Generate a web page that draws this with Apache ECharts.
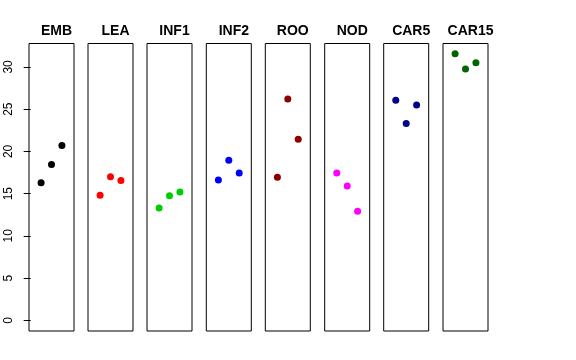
<!DOCTYPE html>
<html><head><meta charset="utf-8">
<script src="https://cdn.jsdelivr.net/npm/echarts@6/dist/echarts.min.js"></script>
<style>html,body{margin:0;padding:0;background:#fff}#c{width:576px;height:360px}</style>
</head><body><div id="c"></div>
<script>
var panels = ["EMB","LEA","INF1","INF2","ROO","NOD","CAR5","CAR15"];
var colors = ["#000000","#FF0000","#00CD00","#0000FF","#8B0000","#FF00FF","#00008B","#006400"];
var positions = [1,2,3];
var EMB = [16.3,18.45,20.7];
var LEA = [14.8,17.0,16.55];
var INF1 = [13.3,14.75,15.2];
var INF2 = [16.6,18.95,17.45];
var ROO = [16.95,26.2,21.45];
var NOD = [17.45,15.9,12.9];
var CAR5 = [26.05,23.3,25.5];
var CAR15 = [31.55,29.75,30.5];
var yTicks = [0,5,10,15,20,25,30];
var values = [EMB,LEA,INF1,INF2,ROO,NOD,CAR5,CAR15];

(function(){
var lefts = [29,88,147,206.3,265.3,324.7,383.7,443];
var pw = 45, gTop = 43.5, ph = 287.5;
var yMin = -1.26, yMax = 32.77;
var grids=[],xAxes=[],yAxes=[],series=[],titles=[];
panels.forEach(function(p,i){
  grids.push({left:lefts[i],top:gTop,width:pw,height:ph,show:true,borderColor:'#000',borderWidth:1,backgroundColor:'transparent'});
  xAxes.push({type:'value',gridIndex:i,min:-0.16,max:4.16,show:false});
  var ya = {type:'value',gridIndex:i,min:yMin,max:yMax,splitLine:{show:false},axisLine:{show:false}};
  if(i===0){
    ya.axisTick={show:true,length:7,inside:false,customValues:yTicks,lineStyle:{color:'#000'}};
    ya.axisLabel={show:true,customValues:yTicks,rotate:90,margin:14,fontFamily:'Liberation Sans, Arial, sans-serif',fontSize:12,color:'#000'};
  } else {
    ya.axisTick={show:false}; ya.axisLabel={show:false};
  }
  yAxes.push(ya);
  series.push({type:'scatter',xAxisIndex:i,yAxisIndex:i,symbol:'circle',symbolSize:7,itemStyle:{color:colors[i],opacity:1},
    data:positions.map(function(x,k){return [x,values[i][k]];}),silent:true,animation:false});
  titles.push({text:p,left:lefts[i]+pw/2,top:19,textAlign:'center',textStyle:{fontFamily:'Liberation Sans, Arial, sans-serif',fontWeight:'bold',fontSize:14,color:'#000'}});
});
var chart = echarts.init(document.getElementById('c'),null,{renderer:'canvas'});
chart.setOption({animation:false,backgroundColor:'#fff',title:titles,grid:grids,xAxis:xAxes,yAxis:yAxes,series:series});
})();
</script></body></html>
